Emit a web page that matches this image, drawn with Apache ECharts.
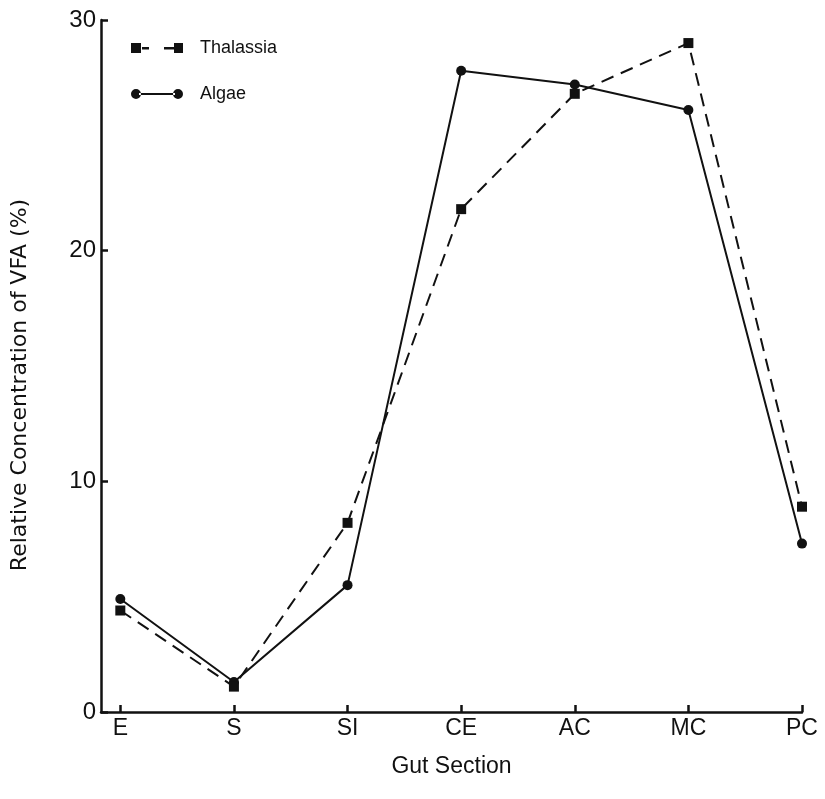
<!DOCTYPE html>
<html>
<head>
<meta charset="utf-8">
<script src="https://cdn.jsdelivr.net/npm/echarts@6/dist/echarts.min.js"></script>
<style>
  html, body { margin: 0; padding: 0; background: #fff; }
  #chart { width: 825px; height: 799px; }
</style>
</head>
<body>
<div id="chart"></div>
<script>
const sections = ["E", "S", "SI", "CE", "AC", "MC", "PC"];
const thalassia = [4.4, 1.1, 8.2, 21.8, 26.8, 29.0, 8.9];
const algae = [4.9, 1.3, 5.5, 27.8, 27.2, 26.1, 7.3];
const yTicks = [0, 10, 20, 30];

const font = "Liberation Sans";
const ink = "#111";

// legend icons drawn as paths (square-dash-square, dot-line-dot)
const iconThalassia =
  "path://M0,0h10v10h-10z M11,4h7v2.4h-7z M33,4h11v2.4h-11z M43,0h9v10h-9z";
const iconAlgae =
  "path://M0,5a5,5 0 1,0 10,0a5,5 0 1,0 -10,0z M8,4h36v2h-36z M42,5a5,5 0 1,0 10,0a5,5 0 1,0 -10,0z";

const chart = echarts.init(document.getElementById("chart"));

const option = {
  animation: false,
  backgroundColor: "#fff",
  grid: { left: 101, right: 23, top: 20, bottom: 87 },
  legend: {
    orient: "vertical",
    left: 126,
    top: 34,
    itemWidth: 52,
    itemHeight: 10,
    itemGap: 28,
    textStyle: { fontFamily: font, fontSize: 18, color: ink, padding: [0, 0, 0, 12] },
    data: [
      { name: "Thalassia", icon: iconThalassia },
      { name: "Algae", icon: iconAlgae },
    ],
  },
  xAxis: {
    type: "value",
    min: -0.17,
    max: 6,
    name: "Gut Section",
    nameLocation: "middle",
    nameGap: 43,
    nameTextStyle: { fontFamily: font, fontSize: 23, color: ink },
    splitLine: { show: false },
    axisLine: { onZero: false, lineStyle: { color: ink, width: 2.5 } },
    axisTick: {
      inside: true,
      length: 7,
      customValues: sections.map((_, i) => i),
      lineStyle: { color: ink, width: 2.5 },
    },
    axisLabel: {
      fontFamily: font,
      fontSize: 23,
      color: ink,
      margin: 5,
      customValues: sections.map((_, i) => i),
      formatter: (v) => sections[Math.round(v)],
    },
  },
  yAxis: {
    type: "value",
    min: 0,
    max: 30,
    interval: 10,
    name: "Relative Concentration of VFA (%)",
    nameLocation: "middle",
    nameGap: 70,
    nameTextStyle: { fontFamily: "DejaVu Sans", fontSize: 22, color: ink, padding: [0, 38, 0, 0] },
    splitLine: { show: false },
    axisLine: { show: true, onZero: false, lineStyle: { color: ink, width: 2.5 } },
    axisTick: {
      show: true,
      inside: true,
      length: 7,
      lineStyle: { color: ink, width: 2.5 },
    },
    axisLabel: {
      fontFamily: font,
      fontSize: 24,
      color: ink,
      margin: 5,
      customValues: yTicks,
    },
  },
  series: [
    {
      name: "Thalassia",
      type: "line",
      data: thalassia.map((v, i) => [i, v]),
      symbol: "rect",
      symbolSize: 10,
      itemStyle: { color: ink },
      lineStyle: { color: ink, width: 2, type: [13, 8] },
      z: 3,
    },
    {
      name: "Algae",
      type: "line",
      data: algae.map((v, i) => [i, v]),
      symbol: "circle",
      symbolSize: 10,
      itemStyle: { color: ink },
      lineStyle: { color: ink, width: 2 },
      z: 2,
    },
  ],
};

chart.setOption(option);
</script>
</body>
</html>
